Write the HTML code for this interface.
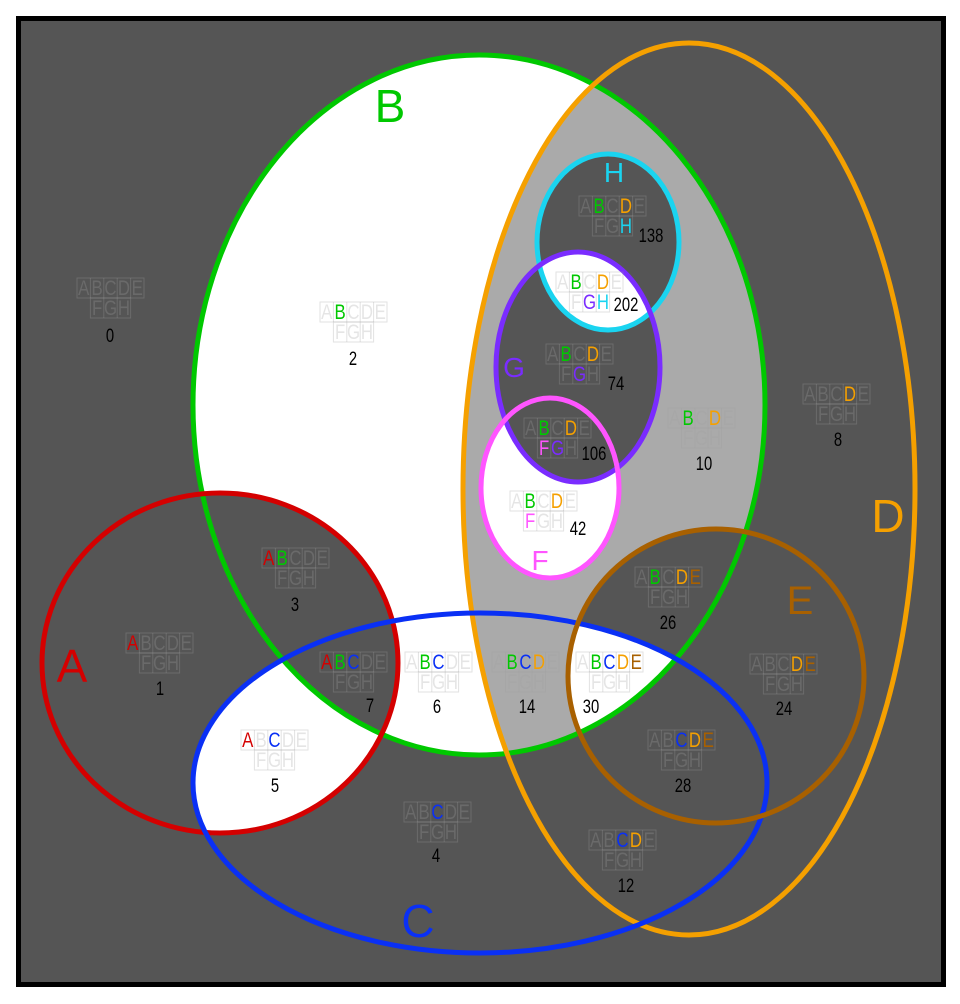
<!DOCTYPE html>
<html><head><meta charset="utf-8"><style>
html,body{margin:0;padding:0;background:#fff}
svg{display:block}
.l text{font-family:"Liberation Sans",sans-serif;font-size:21px;text-anchor:middle;transform-box:fill-box;transform-origin:center;transform:scaleX(0.8)}
.o{fill:rgba(160,160,160,0.28)}
.bx{fill:none;stroke:rgba(160,160,160,0.3);stroke-width:1}
.n{font-family:"Liberation Sans",sans-serif;font-size:19px;fill:#000;text-anchor:middle;transform-box:fill-box;transform-origin:center;transform:scaleX(0.78)}
.A{fill:#d40000}.B{fill:#00c800}.C{fill:#0a30f5}.D{fill:#f5a000}.E{fill:#a86000}.F{fill:#ff55ff}.G{fill:#7a2cff}.H{fill:#1ad4f0}
.big{font-family:"Liberation Sans",sans-serif;font-size:46px;text-anchor:middle}
</style></head><body>
<svg width="960" height="1004" viewBox="0 0 960 1004" xmlns="http://www.w3.org/2000/svg">
<defs>
<clipPath id="cD"><ellipse cx="689" cy="489" rx="226" ry="446"/></clipPath>
<clipPath id="cE"><ellipse cx="716" cy="676" rx="148" ry="147"/></clipPath>
<clipPath id="cC"><ellipse cx="480" cy="783" rx="287" ry="170"/></clipPath>
<clipPath id="cA"><ellipse cx="220" cy="663" rx="178" ry="170"/></clipPath>
<clipPath id="cG"><ellipse cx="578" cy="367" rx="82" ry="115"/></clipPath>
<clipPath id="cB"><ellipse cx="479" cy="405" rx="286" ry="350"/></clipPath>
<g id="lb">
<rect class="bx" x="0" y="0" width="67" height="20"/>
<rect class="bx" x="13.4" y="20" width="40.2" height="20"/>
<line class="bx" x1="13.4" y1="0" x2="13.4" y2="20"/><line class="bx" x1="26.8" y1="0" x2="26.8" y2="40"/><line class="bx" x1="40.2" y1="0" x2="40.2" y2="40"/><line class="bx" x1="53.6" y1="0" x2="53.6" y2="20"/>
</g>
</defs>
<rect x="16" y="16" width="930" height="971" fill="#000"/>
<rect x="21" y="21" width="920" height="961" fill="#555"/>
<ellipse cx="479" cy="405" rx="286" ry="350" fill="#fff"/>
<g clip-path="url(#cD)"><ellipse cx="479" cy="405" rx="286" ry="350" fill="#aaa"/></g>
<g clip-path="url(#cB)">
<ellipse cx="550" cy="488" rx="69" ry="90" fill="#fff"/>
<ellipse cx="578" cy="367" rx="82" ry="115" fill="#555"/>
<ellipse cx="608" cy="242" rx="71" ry="88" fill="#555"/>
<g clip-path="url(#cG)"><ellipse cx="608" cy="242" rx="71" ry="88" fill="#fff"/></g>
</g>
<g clip-path="url(#cE)"><ellipse cx="479" cy="405" rx="286" ry="350" fill="#555"/>
<g clip-path="url(#cC)"><ellipse cx="479" cy="405" rx="286" ry="350" fill="#fff"/></g></g>
<g clip-path="url(#cA)"><ellipse cx="480" cy="783" rx="287" ry="170" fill="#fff"/>
<ellipse cx="479" cy="405" rx="286" ry="350" fill="#555"/></g>
<g fill="none" stroke-width="5">
<ellipse cx="479" cy="405" rx="286" ry="350" stroke="#00c800"/>
<ellipse cx="689" cy="489" rx="226" ry="446" stroke="#f5a000"/>
<ellipse cx="220" cy="663" rx="178" ry="170" stroke="#d40000"/>
<ellipse cx="480" cy="783" rx="287" ry="170" stroke="#0a30f5"/>
<ellipse cx="716" cy="676" rx="148" ry="147" stroke="#a86000"/>
<ellipse cx="608" cy="242" rx="71" ry="88" stroke="#1ad4f0"/>
<ellipse cx="578" cy="367" rx="82" ry="115" stroke="#7a2cff"/>
<ellipse cx="550" cy="488" rx="69" ry="90" stroke="#ff55ff"/>
</g>
<text class="big B" x="390" y="122">B</text>
<text class="big D" x="888" y="532">D</text>
<text class="big A" x="72" y="682">A</text>
<text class="big C" x="418" y="937">C</text>
<text class="big E" x="800" y="614" style="font-size:40px">E</text>
<text class="big H" x="614" y="182" style="font-size:28px">H</text>
<text class="big G" x="514" y="377" style="font-size:28px">G</text>
<text class="big F" x="540" y="570" style="font-size:28px">F</text>

<g class="l" transform="translate(77,278)"><use href="#lb"/><text x="6.7" y="17" class="o">A</text><text x="20.1" y="17" class="o">B</text><text x="33.5" y="17" class="o">C</text><text x="46.9" y="17" class="o">D</text><text x="60.3" y="17" class="o">E</text><text x="20.1" y="37" class="o">F</text><text x="33.5" y="37" class="o">G</text><text x="46.9" y="37" class="o">H</text></g>
<text class="n" x="110" y="342">0</text>
<g class="l" transform="translate(320,302)"><use href="#lb"/><text x="6.7" y="17" class="o">A</text><text x="20.1" y="17" class="B">B</text><text x="33.5" y="17" class="o">C</text><text x="46.9" y="17" class="o">D</text><text x="60.3" y="17" class="o">E</text><text x="20.1" y="37" class="o">F</text><text x="33.5" y="37" class="o">G</text><text x="46.9" y="37" class="o">H</text></g>
<text class="n" x="353" y="365">2</text>
<g class="l" transform="translate(126,633)"><use href="#lb"/><text x="6.7" y="17" class="A">A</text><text x="20.1" y="17" class="o">B</text><text x="33.5" y="17" class="o">C</text><text x="46.9" y="17" class="o">D</text><text x="60.3" y="17" class="o">E</text><text x="20.1" y="37" class="o">F</text><text x="33.5" y="37" class="o">G</text><text x="46.9" y="37" class="o">H</text></g>
<text class="n" x="160" y="695">1</text>
<g class="l" transform="translate(262,548)"><use href="#lb"/><text x="6.7" y="17" class="A">A</text><text x="20.1" y="17" class="B">B</text><text x="33.5" y="17" class="o">C</text><text x="46.9" y="17" class="o">D</text><text x="60.3" y="17" class="o">E</text><text x="20.1" y="37" class="o">F</text><text x="33.5" y="37" class="o">G</text><text x="46.9" y="37" class="o">H</text></g>
<text class="n" x="295" y="611">3</text>
<g class="l" transform="translate(320,652)"><use href="#lb"/><text x="6.7" y="17" class="A">A</text><text x="20.1" y="17" class="B">B</text><text x="33.5" y="17" class="C">C</text><text x="46.9" y="17" class="o">D</text><text x="60.3" y="17" class="o">E</text><text x="20.1" y="37" class="o">F</text><text x="33.5" y="37" class="o">G</text><text x="46.9" y="37" class="o">H</text></g>
<text class="n" x="370" y="712">7</text>
<g class="l" transform="translate(405,652)"><use href="#lb"/><text x="6.7" y="17" class="o">A</text><text x="20.1" y="17" class="B">B</text><text x="33.5" y="17" class="C">C</text><text x="46.9" y="17" class="o">D</text><text x="60.3" y="17" class="o">E</text><text x="20.1" y="37" class="o">F</text><text x="33.5" y="37" class="o">G</text><text x="46.9" y="37" class="o">H</text></g>
<text class="n" x="437" y="713">6</text>
<g class="l" transform="translate(492,652)"><use href="#lb"/><text x="6.7" y="17" class="o">A</text><text x="20.1" y="17" class="B">B</text><text x="33.5" y="17" class="C">C</text><text x="46.9" y="17" class="D">D</text><text x="60.3" y="17" class="o">E</text><text x="20.1" y="37" class="o">F</text><text x="33.5" y="37" class="o">G</text><text x="46.9" y="37" class="o">H</text></g>
<text class="n" x="527" y="713">14</text>
<g class="l" transform="translate(576,652)"><use href="#lb"/><text x="6.7" y="17" class="o">A</text><text x="20.1" y="17" class="B">B</text><text x="33.5" y="17" class="C">C</text><text x="46.9" y="17" class="D">D</text><text x="60.3" y="17" class="E">E</text><text x="20.1" y="37" class="o">F</text><text x="33.5" y="37" class="o">G</text><text x="46.9" y="37" class="o">H</text></g>
<text class="n" x="591" y="713">30</text>
<g class="l" transform="translate(241,730)"><use href="#lb"/><text x="6.7" y="17" class="A">A</text><text x="20.1" y="17" class="o">B</text><text x="33.5" y="17" class="C">C</text><text x="46.9" y="17" class="o">D</text><text x="60.3" y="17" class="o">E</text><text x="20.1" y="37" class="o">F</text><text x="33.5" y="37" class="o">G</text><text x="46.9" y="37" class="o">H</text></g>
<text class="n" x="275" y="792">5</text>
<g class="l" transform="translate(404,802)"><use href="#lb"/><text x="6.7" y="17" class="o">A</text><text x="20.1" y="17" class="o">B</text><text x="33.5" y="17" class="C">C</text><text x="46.9" y="17" class="o">D</text><text x="60.3" y="17" class="o">E</text><text x="20.1" y="37" class="o">F</text><text x="33.5" y="37" class="o">G</text><text x="46.9" y="37" class="o">H</text></g>
<text class="n" x="436" y="862">4</text>
<g class="l" transform="translate(589,830)"><use href="#lb"/><text x="6.7" y="17" class="o">A</text><text x="20.1" y="17" class="o">B</text><text x="33.5" y="17" class="C">C</text><text x="46.9" y="17" class="D">D</text><text x="60.3" y="17" class="o">E</text><text x="20.1" y="37" class="o">F</text><text x="33.5" y="37" class="o">G</text><text x="46.9" y="37" class="o">H</text></g>
<text class="n" x="626" y="892">12</text>
<g class="l" transform="translate(648,730)"><use href="#lb"/><text x="6.7" y="17" class="o">A</text><text x="20.1" y="17" class="o">B</text><text x="33.5" y="17" class="C">C</text><text x="46.9" y="17" class="D">D</text><text x="60.3" y="17" class="E">E</text><text x="20.1" y="37" class="o">F</text><text x="33.5" y="37" class="o">G</text><text x="46.9" y="37" class="o">H</text></g>
<text class="n" x="683" y="792">28</text>
<g class="l" transform="translate(750,654)"><use href="#lb"/><text x="6.7" y="17" class="o">A</text><text x="20.1" y="17" class="o">B</text><text x="33.5" y="17" class="o">C</text><text x="46.9" y="17" class="D">D</text><text x="60.3" y="17" class="E">E</text><text x="20.1" y="37" class="o">F</text><text x="33.5" y="37" class="o">G</text><text x="46.9" y="37" class="o">H</text></g>
<text class="n" x="784" y="715">24</text>
<g class="l" transform="translate(635,567)"><use href="#lb"/><text x="6.7" y="17" class="o">A</text><text x="20.1" y="17" class="B">B</text><text x="33.5" y="17" class="o">C</text><text x="46.9" y="17" class="D">D</text><text x="60.3" y="17" class="E">E</text><text x="20.1" y="37" class="o">F</text><text x="33.5" y="37" class="o">G</text><text x="46.9" y="37" class="o">H</text></g>
<text class="n" x="668" y="629">26</text>
<g class="l" transform="translate(803,384)"><use href="#lb"/><text x="6.7" y="17" class="o">A</text><text x="20.1" y="17" class="o">B</text><text x="33.5" y="17" class="o">C</text><text x="46.9" y="17" class="D">D</text><text x="60.3" y="17" class="o">E</text><text x="20.1" y="37" class="o">F</text><text x="33.5" y="37" class="o">G</text><text x="46.9" y="37" class="o">H</text></g>
<text class="n" x="838" y="446">8</text>
<g class="l" transform="translate(668,408)"><use href="#lb"/><text x="6.7" y="17" class="o">A</text><text x="20.1" y="17" class="B">B</text><text x="33.5" y="17" class="o">C</text><text x="46.9" y="17" class="D">D</text><text x="60.3" y="17" class="o">E</text><text x="20.1" y="37" class="o">F</text><text x="33.5" y="37" class="o">G</text><text x="46.9" y="37" class="o">H</text></g>
<text class="n" x="704" y="470">10</text>
<g class="l" transform="translate(579,196)"><use href="#lb"/><text x="6.7" y="17" class="o">A</text><text x="20.1" y="17" class="B">B</text><text x="33.5" y="17" class="o">C</text><text x="46.9" y="17" class="D">D</text><text x="60.3" y="17" class="o">E</text><text x="20.1" y="37" class="o">F</text><text x="33.5" y="37" class="o">G</text><text x="46.9" y="37" class="H">H</text></g>
<text class="n" x="651" y="242">138</text>
<g class="l" transform="translate(556,272)"><use href="#lb"/><text x="6.7" y="17" class="o">A</text><text x="20.1" y="17" class="B">B</text><text x="33.5" y="17" class="o">C</text><text x="46.9" y="17" class="D">D</text><text x="60.3" y="17" class="o">E</text><text x="20.1" y="37" class="o">F</text><text x="33.5" y="37" class="G">G</text><text x="46.9" y="37" class="H">H</text></g>
<text class="n" x="626" y="311">202</text>
<g class="l" transform="translate(546,344)"><use href="#lb"/><text x="6.7" y="17" class="o">A</text><text x="20.1" y="17" class="B">B</text><text x="33.5" y="17" class="o">C</text><text x="46.9" y="17" class="D">D</text><text x="60.3" y="17" class="o">E</text><text x="20.1" y="37" class="o">F</text><text x="33.5" y="37" class="G">G</text><text x="46.9" y="37" class="o">H</text></g>
<text class="n" x="616" y="390">74</text>
<g class="l" transform="translate(524,418)"><use href="#lb"/><text x="6.7" y="17" class="o">A</text><text x="20.1" y="17" class="B">B</text><text x="33.5" y="17" class="o">C</text><text x="46.9" y="17" class="D">D</text><text x="60.3" y="17" class="o">E</text><text x="20.1" y="37" class="F">F</text><text x="33.5" y="37" class="G">G</text><text x="46.9" y="37" class="o">H</text></g>
<text class="n" x="594" y="460">106</text>
<g class="l" transform="translate(510,491)"><use href="#lb"/><text x="6.7" y="17" class="o">A</text><text x="20.1" y="17" class="B">B</text><text x="33.5" y="17" class="o">C</text><text x="46.9" y="17" class="D">D</text><text x="60.3" y="17" class="o">E</text><text x="20.1" y="37" class="F">F</text><text x="33.5" y="37" class="o">G</text><text x="46.9" y="37" class="o">H</text></g>
<text class="n" x="578" y="535">42</text>
</svg>
</body></html>
